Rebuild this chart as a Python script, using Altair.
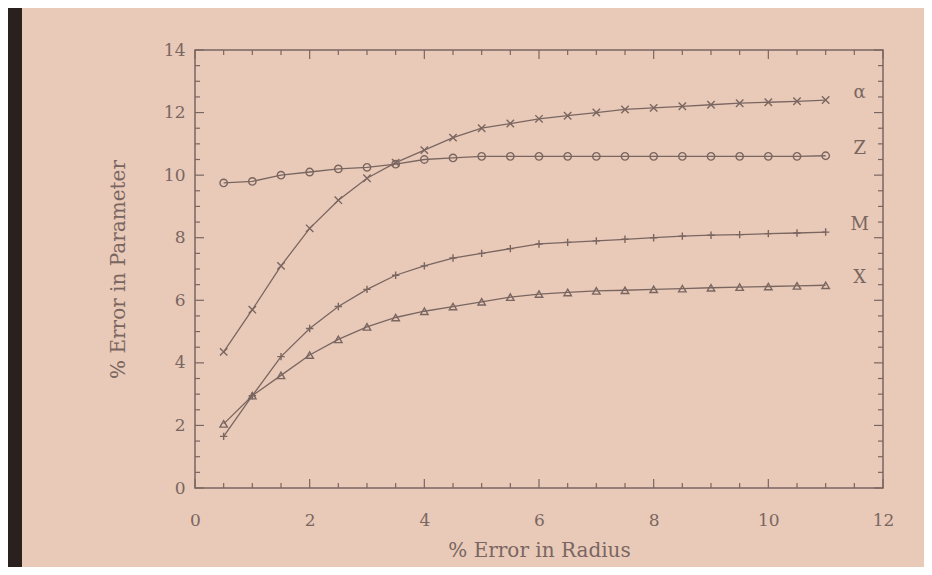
import altair as alt
import numpy as np
import pandas as pd

# x positions (% error in radius)
radius = [0.5, 1.0, 1.5, 2.0, 2.5, 3.0, 3.5, 4.0, 4.5, 5.0, 5.5,
          6.0, 6.5, 7.0, 7.5, 8.0, 8.5, 9.0, 9.5, 10.0, 10.5, 11.0]

alpha = [4.35, 5.7, 7.1, 8.3, 9.2, 9.9, 10.4, 10.8, 11.2, 11.5, 11.65,
         11.8, 11.9, 12.0, 12.1, 12.15, 12.2, 12.25, 12.3, 12.33, 12.36, 12.4]
z_err = [9.75, 9.8, 10.0, 10.1, 10.2, 10.25, 10.35, 10.5, 10.55, 10.6, 10.6,
         10.6, 10.6, 10.6, 10.6, 10.6, 10.6, 10.6, 10.6, 10.6, 10.6, 10.62]
m_err = [1.65, 2.95, 4.2, 5.1, 5.8, 6.35, 6.8, 7.1, 7.35, 7.5, 7.65,
         7.8, 7.85, 7.9, 7.95, 8.0, 8.05, 8.08, 8.1, 8.13, 8.15, 8.18]
x_err = [2.05, 2.95, 3.6, 4.25, 4.75, 5.15, 5.45, 5.65, 5.8, 5.95, 6.1,
         6.2, 6.25, 6.3, 6.32, 6.35, 6.37, 6.4, 6.42, 6.44, 6.46, 6.48]

series_names = ["α", "Z", "M", "X"]
series_vals = [alpha, z_err, m_err, x_err]
shapes = ["M-1,-1L1,1M1,-1L-1,1", "circle", "M-1,0L1,0M0,-1L0,1", "triangle-up"]

x_major = [0, 2, 4, 6, 8, 10, 12]
y_major = [0, 2, 4, 6, 8, 10, 12, 14]

rows = []
for name, vals in zip(series_names, series_vals):
    for r, v in zip(radius, vals):
        rows.append({"series": name, "r": r, "v": v})
df = pd.DataFrame(rows)

lab = pd.DataFrame({"series": series_names, "r": [radius[-1]] * 4,
                    "v": [vals[-1] for vals in series_vals]})

W, H = 688, 438
INK = "#7a6661"
BG = "#e9cab8"
FONT = "DejaVu Serif"

xs = alt.Scale(domain=[0, 12], nice=False, zero=False)
ys = alt.Scale(domain=[0, 14], nice=False, zero=False)

xaxis = alt.Axis(values=x_major, format="d", labelFlush=False, ticks=False, domain=False, grid=False,
                 labelFont=FONT, labelFontSize=17, labelColor=INK, labelPadding=24,
                 title="% Error in Radius", titleFont=FONT, titleFontSize=20,
                 titleFontWeight="normal", titleColor=INK, titlePadding=12)
yaxis = alt.Axis(values=y_major, format="d", labelFlush=False, ticks=False, domain=False, grid=False,
                 labelFont=FONT, labelFontSize=17, labelColor=INK, labelPadding=10,
                 title="% Error in Parameter", titleFont=FONT, titleFontSize=20,
                 titleFontWeight="normal", titleColor=INK, titlePadding=35)

base = alt.Chart(df)
lines = base.mark_line(color=INK, strokeWidth=1.3).encode(
    x=alt.X("r:Q", scale=xs, axis=xaxis),
    y=alt.Y("v:Q", scale=ys, axis=yaxis),
    detail="series:N",
)
points = base.mark_point(filled=False, color=INK, strokeWidth=1.4, size=55, opacity=1).encode(
    x=alt.X("r:Q", scale=xs),
    y=alt.Y("v:Q", scale=ys),
    shape=alt.Shape("series:N", scale=alt.Scale(domain=series_names, range=shapes), legend=None),
)
labels = alt.Chart(lab).mark_text(font=FONT, fontSize=18, color=INK, align="center",
                                  baseline="middle", dx=34, dy=-7).encode(
    x=alt.X("r:Q", scale=xs),
    y=alt.Y("v:Q", scale=ys),
    text="series:N",
)

xmaj = pd.DataFrame({"t": x_major})
xmin = pd.DataFrame({"t": [t for t in np.arange(0, 12.01, 0.5) if t % 2 != 0]})
ymaj = pd.DataFrame({"t": y_major})
ymin = pd.DataFrame({"t": [t for t in np.arange(0, 14.01, 0.5) if t % 2 != 0]})

def xticks(d, L):
    b = alt.Chart(d).mark_rule(color=INK, strokeWidth=1.2)
    return (b.encode(x=alt.X("t:Q", scale=xs), y=alt.value(H), y2=alt.value(H - L)) +
            b.encode(x=alt.X("t:Q", scale=xs), y=alt.value(0), y2=alt.value(L)))

def yticks(d, L):
    b = alt.Chart(d).mark_rule(color=INK, strokeWidth=1.2)
    return (b.encode(y=alt.Y("t:Q", scale=ys), x=alt.value(0), x2=alt.value(L)) +
            b.encode(y=alt.Y("t:Q", scale=ys), x=alt.value(W), x2=alt.value(W - L)))

strip = alt.Chart(pd.DataFrame({"a": [0]})).mark_rect(color="#2a211f").encode(
    x=alt.value(-187), x2=alt.value(-173), y=alt.value(-42), y2=alt.value(H + 79))

chart = alt.layer(
    strip, lines, points, labels,
    xticks(xmaj, 9), xticks(xmin, 5), yticks(ymaj, 9), yticks(ymin, 5),
).properties(
    width=W, height=H,
    autosize=alt.AutoSizeParams(type="none"),
    padding={"left": 187, "top": 42, "right": 41, "bottom": 79},
    background=BG,
).configure_view(stroke=INK, strokeWidth=1.5)

chart.save("out.html", embed_options={"renderer": "svg", "actions": False})
